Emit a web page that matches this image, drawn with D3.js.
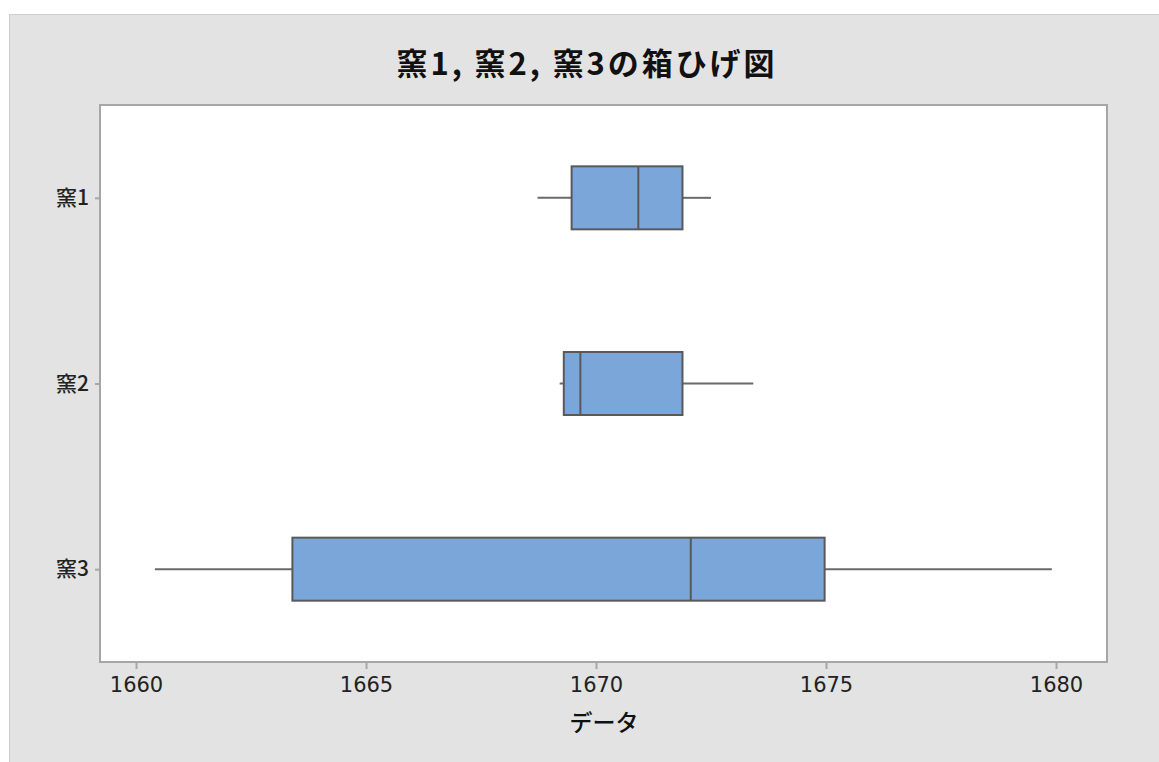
<!DOCTYPE html>
<html>
<head>
<meta charset="utf-8">
<script src="https://cdn.jsdelivr.net/npm/d3@7"></script>
<style>
  html, body { margin: 0; padding: 0; background: #ffffff; }
  svg { display: block; }
</style>
</head>
<body>
<script>
const categories = ["窯1", "窯2", "窯3"];
const whiskerLow = [1668.73, 1669.21, 1660.41];
const q1Values = [1669.47, 1669.30, 1663.40];
const medianValues = [1670.92, 1669.66, 1672.06];
const q3Values = [1671.88, 1671.88, 1674.97];
const whiskerHigh = [1672.50, 1673.42, 1679.91];
const xTicks = [1660, 1665, 1670, 1675, 1680];
const titleText = "窯1, 窯2, 窯3の箱ひげ図";
const xLabel = "データ";

const W = 1159, H = 762;
const plot = { left: 100, top: 105, right: 1107, bottom: 662 };

const svg = d3.select("body").append("svg").attr("width", W).attr("height", H);

svg.append("rect").attr("x", 9.5).attr("y", 14.5).attr("width", W - 9).attr("height", H - 14)
  .attr("fill", "#e3e3e3").attr("stroke", "#cdcdcd").attr("stroke-width", 1);

const x = d3.scaleLinear().domain([1660, 1680]).range([136, 1056]);
const y = d3.scalePoint().domain(categories).range([plot.top, plot.bottom]).padding(0.5);
const boxH = 63;

svg.append("rect").attr("x", plot.left).attr("y", plot.top)
  .attr("width", plot.right - plot.left).attr("height", plot.bottom - plot.top)
  .attr("fill", "#ffffff").attr("stroke", "#a6a6a6").attr("stroke-width", 2);

// x axis
const xAxis = svg.append("g").attr("transform", `translate(0,${plot.bottom})`)
  .call(d3.axisBottom(x).tickValues(xTicks).tickFormat(d3.format("d")).tickSize(7).tickPadding(8));
xAxis.select(".domain").remove();
xAxis.selectAll(".tick line").attr("stroke", "#a6a6a6").attr("stroke-width", 2);
xAxis.selectAll(".tick text").attr("fill", "#222").style("font-family", "'DejaVu Sans', Verdana, sans-serif").style("font-size", "21px");

// y axis
const yAxis = svg.append("g").attr("transform", `translate(${plot.left},0)`)
  .call(d3.axisLeft(y).tickSize(5).tickPadding(6));
yAxis.select(".domain").remove();
yAxis.selectAll(".tick line").attr("stroke", "#a6a6a6").attr("stroke-width", 2);
yAxis.selectAll(".tick text").attr("fill", "#222").style("font-family", "'Noto Sans CJK JP', sans-serif")
  .style("font-size", "21px").style("font-weight", "500");

const data = categories.map((c, i) => ({
  c, lo: whiskerLow[i], q1: q1Values[i], med: medianValues[i], q3: q3Values[i], hi: whiskerHigh[i]
}));

const g = svg.append("g");
const box = g.selectAll("g.box").data(data).join("g").attr("class", "box");

box.append("line").attr("x1", d => x(d.lo)).attr("x2", d => x(d.q1))
  .attr("y1", d => y(d.c)).attr("y2", d => y(d.c)).attr("stroke", "#6a6a6a").attr("stroke-width", 2);
box.append("line").attr("x1", d => x(d.q3)).attr("x2", d => x(d.hi))
  .attr("y1", d => y(d.c)).attr("y2", d => y(d.c)).attr("stroke", "#6a6a6a").attr("stroke-width", 2);
box.append("rect").attr("x", d => x(d.q1)).attr("width", d => x(d.q3) - x(d.q1))
  .attr("y", d => y(d.c) - boxH / 2).attr("height", boxH)
  .attr("fill", "#7ba6d9").attr("stroke", "#595959").attr("stroke-width", 2);
box.append("line").attr("x1", d => x(d.med)).attr("x2", d => x(d.med))
  .attr("y1", d => y(d.c) - boxH / 2).attr("y2", d => y(d.c) + boxH / 2)
  .attr("stroke", "#595959").attr("stroke-width", 2);

svg.append("text").attr("x", 585.5).attr("y", 75).attr("text-anchor", "middle")
  .attr("textLength", 378).attr("lengthAdjust", "spacing")
  .style("font-family", "'Noto Sans CJK JP', sans-serif").style("font-weight", "bold").style("font-size", "31px")
  .attr("fill", "#111").text(titleText);

svg.append("text").attr("x", 604).attr("y", 731).attr("text-anchor", "middle")
  .style("font-family", "'Noto Sans CJK JP', sans-serif").style("font-size", "23px").style("font-weight", "500")
  .attr("fill", "#111").text(xLabel);
</script>
</body>
</html>
